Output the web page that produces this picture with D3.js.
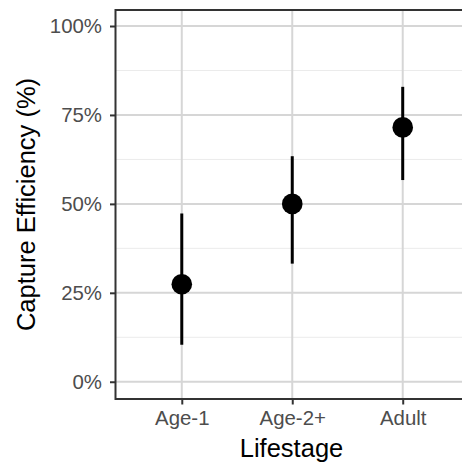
<!DOCTYPE html>
<html><head><meta charset="utf-8">
<script src="https://cdn.jsdelivr.net/npm/d3@7"></script>
<style>
html,body{margin:0;padding:0;background:#fff;}
svg{display:block;font-family:"Liberation Sans",Arial,sans-serif;}
</style></head>
<body>
<svg id="chart" width="462" height="464"></svg>
<script>
const categories = ["Age-1", "Age-2+", "Adult"];
const estimate = [27.4, 50.0, 71.5];
const lower = [10.4, 33.2, 56.7];
const upper = [47.3, 63.4, 82.9];
const yTicks = [0, 25, 50, 75, 100];
const yMinor = [12.5, 37.5, 62.5, 87.5];
const yTickLabels = ["0%", "25%", "50%", "75%", "100%"];
const xTitle = "Lifestage";
const yTitle = "Capture Efficiency (%)";

const svg = d3.select("#chart");
const panel = {left: 115.5, right: 469, top: 10, bottom: 399};

const x = d3.scalePoint().domain(categories).range([panel.left, panel.right]).padding(0.6);
const y = d3.scaleLinear().domain([-4.85, 104.5]).range([panel.bottom, panel.top]);

const g = svg.append("g");

// minor grid
g.selectAll("line.minor").data(yMinor).join("line")
  .attr("x1", panel.left).attr("x2", panel.right)
  .attr("y1", d => y(d)).attr("y2", d => y(d))
  .attr("stroke", "#ebebeb").attr("stroke-width", 1);
// major grid
g.selectAll("line.majy").data(yTicks).join("line")
  .attr("x1", panel.left).attr("x2", panel.right)
  .attr("y1", d => y(d)).attr("y2", d => y(d))
  .attr("stroke", "#d6d6d6").attr("stroke-width", 2);
g.selectAll("line.majx").data(categories).join("line")
  .attr("x1", d => x(d)).attr("x2", d => x(d))
  .attr("y1", panel.top).attr("y2", panel.bottom)
  .attr("stroke", "#d6d6d6").attr("stroke-width", 2);

const data = categories.map((c, i) => ({c, est: estimate[i], lo: lower[i], hi: upper[i]}));

g.selectAll("line.err").data(data).join("line")
  .attr("x1", d => x(d.c)).attr("x2", d => x(d.c))
  .attr("y1", d => y(d.lo)).attr("y2", d => y(d.hi))
  .attr("stroke", "#000").attr("stroke-width", 3);
g.selectAll("circle").data(data).join("circle")
  .attr("cx", d => x(d.c)).attr("cy", d => y(d.est)).attr("r", 10.3)
  .attr("fill", "#000");

// panel border
g.append("rect")
  .attr("x", panel.left).attr("y", panel.top)
  .attr("width", panel.right - panel.left).attr("height", panel.bottom - panel.top)
  .attr("fill", "none").attr("stroke", "#333").attr("stroke-width", 2);

// axes
const yAxis = d3.axisLeft(y).tickValues(yTicks).tickFormat((d, i) => yTickLabels[i]).tickSize(5.5).tickPadding(8);
const ya = svg.append("g").attr("transform", `translate(${panel.left},0)`).call(yAxis);
ya.select(".domain").remove();
ya.selectAll(".tick line").attr("stroke", "#333").attr("stroke-width", 2);
ya.selectAll(".tick text").attr("fill", "#4d4d4d").style("font-size", "20.4px").style("font-family", "Liberation Sans, Arial, sans-serif");

const xAxis = d3.axisBottom(x).tickSize(5.5).tickPadding(6.5);
const xa = svg.append("g").attr("transform", `translate(0,${panel.bottom})`).call(xAxis);
xa.select(".domain").remove();
xa.selectAll(".tick line").attr("stroke", "#333").attr("stroke-width", 2);
xa.selectAll(".tick text").attr("fill", "#4d4d4d").style("font-size", "20.4px").style("font-family", "Liberation Sans, Arial, sans-serif");

svg.append("text").attr("x", 291.5).attr("y", 456.5).attr("text-anchor", "middle")
  .style("font-size", "25.5px").attr("fill", "#000").text(xTitle);
svg.append("text").attr("transform", `translate(35,${(panel.top + panel.bottom) / 2}) rotate(-90)`)
  .attr("text-anchor", "middle").style("font-size", "25.5px").attr("fill", "#000").text(yTitle);
</script>
</body></html>
